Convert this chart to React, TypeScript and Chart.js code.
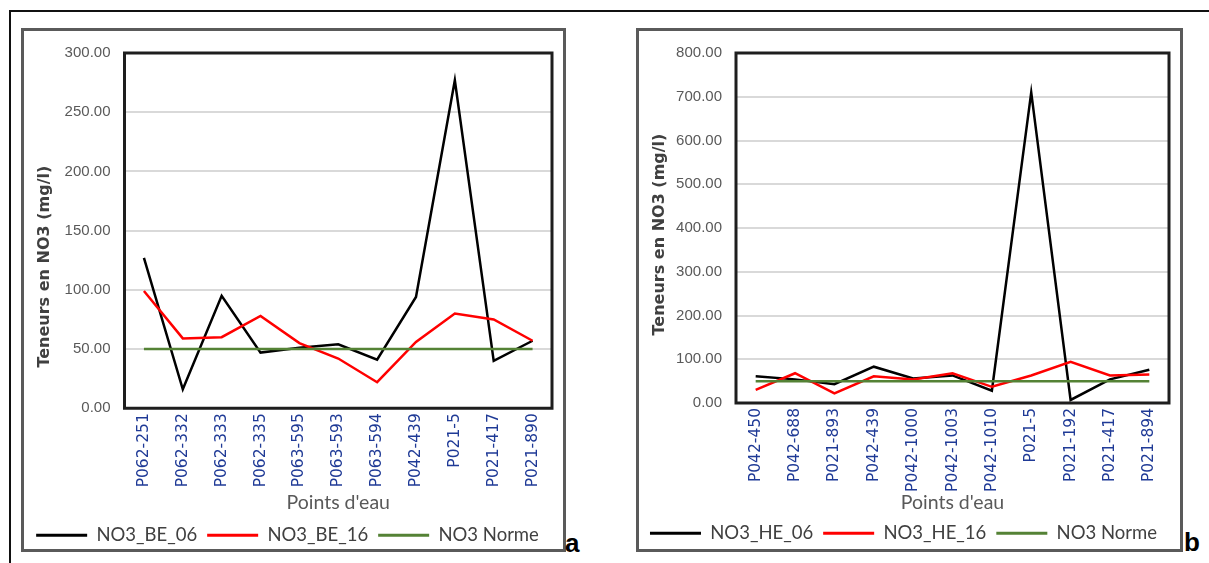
import React, { useEffect, useRef } from 'react';
import { Chart, registerables } from 'chart.js';

Chart.register(...registerables);

// ---------- Data (panel a) ----------
const pointsBE = ['P062-251', 'P062-332', 'P062-333', 'P062-335', 'P063-595', 'P063-593', 'P063-594', 'P042-439', 'P021-5', 'P021-417', 'P021-890'];
const no3BE06 = [127, 16, 95, 47, 51, 54, 41, 94, 277, 40, 57];
const no3BE16 = [99, 59, 60, 78, 55, 42, 22, 56, 80, 75, 57];
const normeBE = [50, 50, 50, 50, 50, 50, 50, 50, 50, 50, 50];
const yMaxBE = 300;
const yStepBE = 50;

// ---------- Data (panel b) ----------
const pointsHE = ['P042-450', 'P042-688', 'P021-893', 'P042-439', 'P042-1000', 'P042-1003', 'P042-1010', 'P021-5', 'P021-192', 'P021-417', 'P021-894'];
const no3HE06 = [61, 54, 43, 83, 56, 63, 28, 710, 7, 54, 76];
const no3HE16 = [30, 68, 22, 61, 54, 68, 37, 63, 94, 63, 65];
const normeHE = [50, 50, 50, 50, 50, 50, 50, 50, 50, 50, 50];
const yMaxHE = 800;
const yStepHE = 100;

const yTitle = 'Teneurs en NO3 (mg/l)';
const xTitle = "Points d'eau";

const framePlugin = {
  id: 'plotFrame',
  afterDraw(chart: any) {
    const { ctx, chartArea } = chart;
    ctx.save();
    ctx.strokeStyle = '#1e1e1e';
    ctx.lineWidth = 3;
    ctx.strokeRect(chartArea.left, chartArea.top, chartArea.right - chartArea.left, chartArea.bottom - chartArea.top);
    ctx.restore();
  },
};

const yTitlePlugin = {
  id: 'yTitleText',
  afterDraw(chart: any, _args: any, opts: any) {
    const { ctx, chartArea } = chart;
    ctx.save();
    ctx.font = 'bold 16px "DejaVu Sans", sans-serif';
    ctx.fillStyle = '#404040';
    ctx.textAlign = 'center';
    ctx.textBaseline = 'middle';
    ctx.translate(opts.x, (chartArea.top + chartArea.bottom) / 2 + opts.shift);
    ctx.rotate(-Math.PI / 2);
    ctx.fillText(opts.text, 0, 0);
    ctx.restore();
  },
};

type PanelProps = {
  left: number;
  top: number;
  width: number;
  height: number;
  labels: string[];
  s06: number[];
  s16: number[];
  norme: number[];
  names: string[];
  yMax: number;
  yStep: number;
  yAxisWidth: number;
  padRight: number;
  padBottom: number;
  xAxisHeight: number;
  xTitlePad: number;
  yTitleX: number;
  yTitleShift: number;
};

function Panel(p: PanelProps) {
  const ref = useRef<HTMLCanvasElement | null>(null);
  useEffect(() => {
    if (!ref.current) return;
    const chart = new Chart(ref.current, {
      type: 'line',
      data: {
        labels: p.labels,
        datasets: [
          { label: p.names[0], data: p.s06, borderColor: '#000000', backgroundColor: '#000000', borderWidth: 2.5, pointRadius: 0, tension: 0, fill: false, order: 2 },
          { label: p.names[1], data: p.s16, borderColor: '#ff0000', backgroundColor: '#ff0000', borderWidth: 2.5, pointRadius: 0, tension: 0, fill: false, order: 1 },
          { label: p.names[2], data: p.norme, borderColor: '#548235', backgroundColor: '#548235', borderWidth: 2.5, pointRadius: 0, tension: 0, fill: false, order: 0 },
        ],
      },
      options: {
        responsive: false,
        animation: false,
        devicePixelRatio: 1,
        layout: { padding: { left: 0, top: 11, right: p.padRight, bottom: p.padBottom } },
        scales: {
          x: {
            type: 'category',
            offset: true,
            grid: { display: false, drawTicks: false },
            border: { display: false },
            ticks: {
              autoSkip: false,
              minRotation: 90,
              maxRotation: 90,
              padding: 5,
              color: '#1f3a96',
              font: { family: '"DejaVu Sans", sans-serif', size: 15.5 },
            },
            title: {
              display: true,
              text: xTitle,
              color: '#595959',
              font: { family: 'Lato, sans-serif', size: 19.5 },
              padding: { top: 0, bottom: p.xTitlePad },
            },
            afterFit: (scale: any) => {
              scale.height = p.xAxisHeight;
            },
          },
          y: {
            min: 0,
            max: p.yMax,
            grid: { color: '#d9d9d9', lineWidth: 2, drawTicks: false },
            border: { display: false },
            ticks: {
              stepSize: p.yStep,
              padding: 14,
              color: '#595959',
              font: { family: '"Liberation Sans", sans-serif', size: 15 },
              callback: (v: any) => Number(v).toFixed(2),
            },
            afterFit: (scale: any) => {
              scale.width = p.yAxisWidth;
            },
          },
        },
        plugins: {
          legend: {
            position: 'bottom',
            labels: {
              boxWidth: 51,
              boxHeight: 3,
              padding: 10,
              color: '#404040',
              font: { family: 'Lato, sans-serif', size: 18.5 },
              sort: (a: any, b: any) => a.datasetIndex - b.datasetIndex,
              generateLabels: (c: any) =>
                (Chart.defaults.plugins.legend.labels.generateLabels as any)(c).map((l: any) => ({ ...l, lineWidth: 0 })),
            },
          },
          tooltip: { enabled: false },
          yTitleText: { x: p.yTitleX, shift: p.yTitleShift, text: yTitle },
        } as any,
      },
      plugins: [framePlugin, yTitlePlugin],
    });
    return () => chart.destroy();
  }, []);
  return (
    <canvas
      ref={ref}
      width={p.width}
      height={p.height}
      style={{ position: 'absolute', left: p.left, top: p.top, width: p.width, height: p.height }}
    />
  );
}

export default function App() {
  return (
    <div style={{ position: 'absolute', left: 0, top: 0, width: 1209, height: 563, background: '#ffffff', overflow: 'hidden' }}>
      <div style={{ position: 'absolute', left: 10, top: 10, width: 1199, height: 0, borderTop: '2px solid #111' }} />
      <div style={{ position: 'absolute', left: 9, top: 10, width: 0, height: 553, borderLeft: '2px solid #111' }} />
      <div style={{ position: 'absolute', left: 21, top: 28, width: 545, height: 524, border: '3px solid #5a5a5a', boxSizing: 'border-box' }} />
      <div style={{ position: 'absolute', left: 636, top: 28, width: 547, height: 524, border: '3px solid #5a5a5a', boxSizing: 'border-box' }} />
      <Panel
        left={23}
        top={30}
        width={541}
        height={530}
        labels={pointsBE}
        s06={no3BE06}
        s16={no3BE16}
        norme={normeBE}
        names={['NO3_BE_06', 'NO3_BE_16', 'NO3 Norme']}
        yMax={yMaxBE}
        yStep={yStepBE}
        yAxisWidth={101.5}
        padRight={12}
        padBottom={5.5}
        xAxisHeight={107.75}
        xTitlePad={2}
        yTitleX={22}
        yTitleShift={36}
      />
      <Panel
        left={638}
        top={30}
        width={543}
        height={530}
        labels={pointsHE}
        s06={no3HE06}
        s16={no3HE16}
        norme={normeHE}
        names={['NO3_HE_06', 'NO3_HE_16', 'NO3 Norme']}
        yMax={yMaxHE}
        yStep={yStepHE}
        yAxisWidth={98}
        padRight={12}
        padBottom={7.5}
        xAxisHeight={111}
        xTitlePad={0}
        yTitleX={22}
        yTitleShift={6.5}
      />
      <span style={{ position: 'absolute', left: 565, top: 528, fontFamily: '"Liberation Sans", sans-serif', fontSize: 26, fontWeight: 'bold', color: '#000', lineHeight: '30px' }}>a</span>
      <span style={{ position: 'absolute', left: 1184, top: 527, fontFamily: '"Liberation Sans", sans-serif', fontSize: 26, fontWeight: 'bold', color: '#000', lineHeight: '30px' }}>b</span>
    </div>
  );
}
